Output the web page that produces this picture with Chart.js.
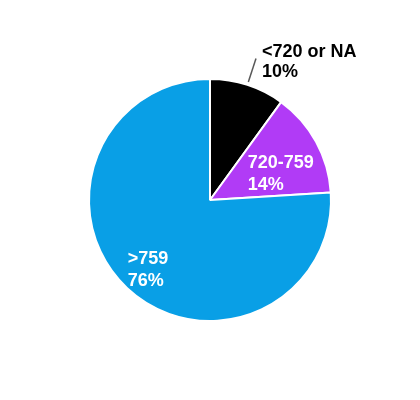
<!DOCTYPE html>
<html>
<head>
<meta charset="utf-8">
<script src="https://cdn.jsdelivr.net/npm/chart.js@4"></script>
<style>
  html, body { margin: 0; padding: 0; background: #fff; }
  .chart-container { width: 420px; height: 400px; }
</style>
</head>
<body>
<div class="chart-container"><canvas id="chart"></canvas></div>
<script>
// datos del gráfico
const categories = ["<720 or NA", "720-759", ">759"];
const shares = [10, 14, 76];
const sliceColors = ["#000000", "#b13bf6", "#099fe6"];

// posición de cada etiqueta: fracción del radio + desplazamiento
const labelPlacement = [
  { outside: true, from: 1.025, to: 1.23 },
  { f: 0.63, dx: 4, dy: 10 },
  { f: 0.76, dx: 1, dy: 2 }
];

const sliceLabels = {
  id: "sliceLabels",
  afterDatasetsDraw(chart) {
    const ctx = chart.ctx;
    const arcs = chart.getDatasetMeta(0).data;
    ctx.save();
    ctx.font = "bold 18px 'Liberation Sans', Arial, sans-serif";
    ctx.textBaseline = "middle";
    arcs.forEach((arc, i) => {
      const p = labelPlacement[i];
      const mid = (arc.startAngle + arc.endAngle) / 2;
      const r = arc.outerRadius;
      const lines = [categories[i], shares[i] + "%"];
      if (p.outside) {
        const x1 = arc.x + Math.cos(mid) * r * p.from;
        const y1 = arc.y + Math.sin(mid) * r * p.from;
        const x2 = arc.x + Math.cos(mid) * r * p.to;
        const y2 = arc.y + Math.sin(mid) * r * p.to;
        ctx.strokeStyle = "#595959";
        ctx.lineWidth = 1.5;
        ctx.beginPath();
        ctx.moveTo(x1, y1);
        ctx.lineTo(x2, y2);
        ctx.stroke();
        ctx.fillStyle = "#000";
        ctx.textAlign = "left";
        ctx.fillText(lines[0], x2 + 6, y2 - 6);
        ctx.fillText(lines[1], x2 + 6, y2 + 14);
      } else {
        const cx = arc.x + Math.cos(mid) * r * p.f + p.dx;
        const cy = arc.y + Math.sin(mid) * r * p.f + p.dy;
        const w = Math.max(...lines.map(t => ctx.measureText(t).width));
        ctx.fillStyle = "#fff";
        ctx.textAlign = "left";
        ctx.fillText(lines[0], cx - w / 2, cy - 10);
        ctx.fillText(lines[1], cx - w / 2, cy + 12);
      }
    });
    ctx.restore();
  }
};

new Chart(document.getElementById("chart"), {
  type: "pie",
  data: {
    labels: categories,
    datasets: [{
      data: shares,
      backgroundColor: sliceColors,
      borderColor: "#ffffff",
      borderWidth: 2
    }]
  },
  options: {
    responsive: true,
    maintainAspectRatio: false,
    animation: false,
    layout: { padding: { top: 78, bottom: 78 } },
    plugins: {
      legend: { display: false },
      tooltip: { enabled: false }
    }
  },
  plugins: [sliceLabels]
});
</script>
</body>
</html>
